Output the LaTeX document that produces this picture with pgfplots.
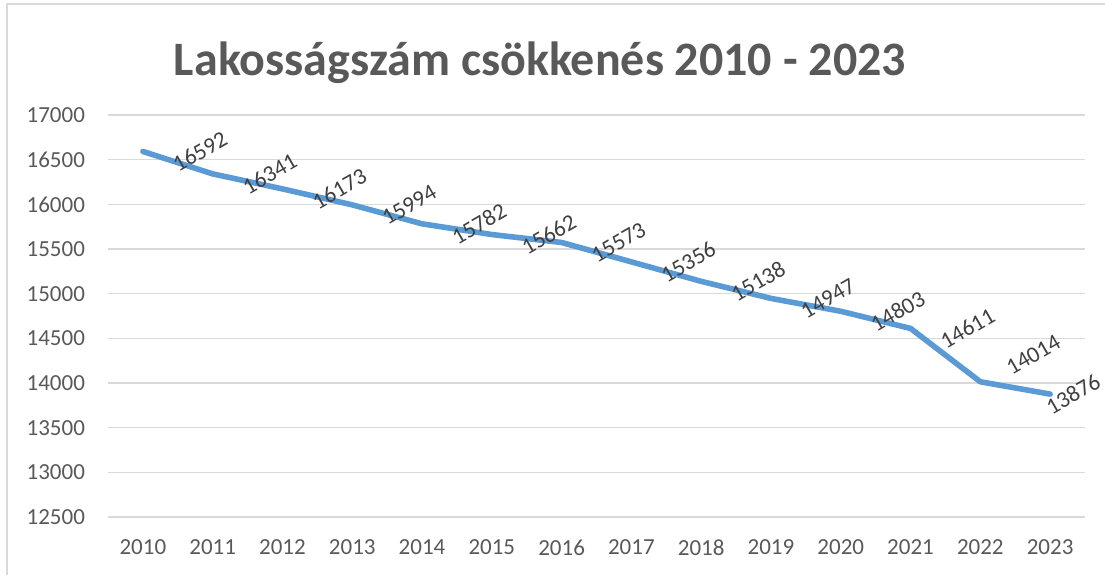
\documentclass[border=0pt]{standalone}
\usepackage{pgfplots}
\pgfplotsset{compat=1.18}
\usepackage{fontspec}
\setmainfont{Carlito}
\definecolor{linecol}{HTML}{5B9BD5}
\definecolor{gridcol}{HTML}{D9D9D9}
\definecolor{txtcol}{HTML}{595959}
\definecolor{lblcol}{HTML}{404040}
\newcommand{\lblfont}{\fontsize{11.5}{13}\selectfont}
\begin{document}
\begin{tikzpicture}
\path[use as bounding box] (-54pt,-29pt) rectangle (498.5pt,258.5pt);
\draw[gridcol, line width=0.8pt] (-50.5pt,-29pt) -- (-50.5pt,256.5pt) -- (498.5pt,256.5pt);
\node[font=\fontsize{24}{28}\selectfont\bfseries, text=txtcol] at (216pt,227pt) {Lakosságszám csökkenés 2010 - 2023};
\begin{axis}[
  at={(0,0)}, anchor=south west,
  scale only axis,
  width=488.5pt, height=201pt,
  xmin=-0.5, xmax=13.5,
  ymin=12500, ymax=17000,
  ytick={12500,13000,...,17000},
  scaled y ticks=false,
  xtick={0,...,13},
  xticklabels={2010,2011,2012,2013,2014,2015,2016,2017,2018,2019,2020,2021,2022,2023},
  axis line style={draw=none},
  major tick length=0pt,
  ymajorgrids,
  grid style={gridcol, line width=0.8pt},
  every tick label/.append style={font=\lblfont, text=txtcol},
  yticklabel style={font=\lblfont, text=txtcol, xshift=-8pt},
  xticklabel style={font=\lblfont, text=txtcol, yshift=-8pt},
  /pgf/number format/.cd, 1000 sep={}, assume math mode=true,
]
\addplot[linecol, line width=2.8pt, line join=round, line cap=round,
  nodes near coords={\rotatebox{30}{\pgfmathprintnumber{\pgfplotspointmeta}}},
  nodes near coords style={font=\lblfont, text=lblcol, anchor=center, inner sep=0pt, xshift=28.5pt},
] coordinates {
(0,16592) (1,16341) (2,16173) (3,15994) (4,15782) (5,15662) (6,15573)
(7,15356) (8,15138) (9,14947) (10,14803) (11,14611)
};
\addplot[linecol, line width=2.8pt, line join=round, line cap=round] coordinates {(11,14611) (12,14014) (13,13876)};
\addplot[draw=none, nodes near coords={\rotatebox{30}{\pgfmathprintnumber{\pgfplotspointmeta}}},
  nodes near coords style={font=\lblfont, text=lblcol, anchor=center, inner sep=0pt, xshift=26.5pt, yshift=13.5pt},
] coordinates {(12,14014)};
\addplot[draw=none, nodes near coords={\rotatebox{30}{\pgfmathprintnumber{\pgfplotspointmeta}}},
  nodes near coords style={font=\lblfont, text=lblcol, anchor=center, inner sep=0pt, xshift=11.5pt},
] coordinates {(13,13876)};
\end{axis}
\end{tikzpicture}
\end{document}
